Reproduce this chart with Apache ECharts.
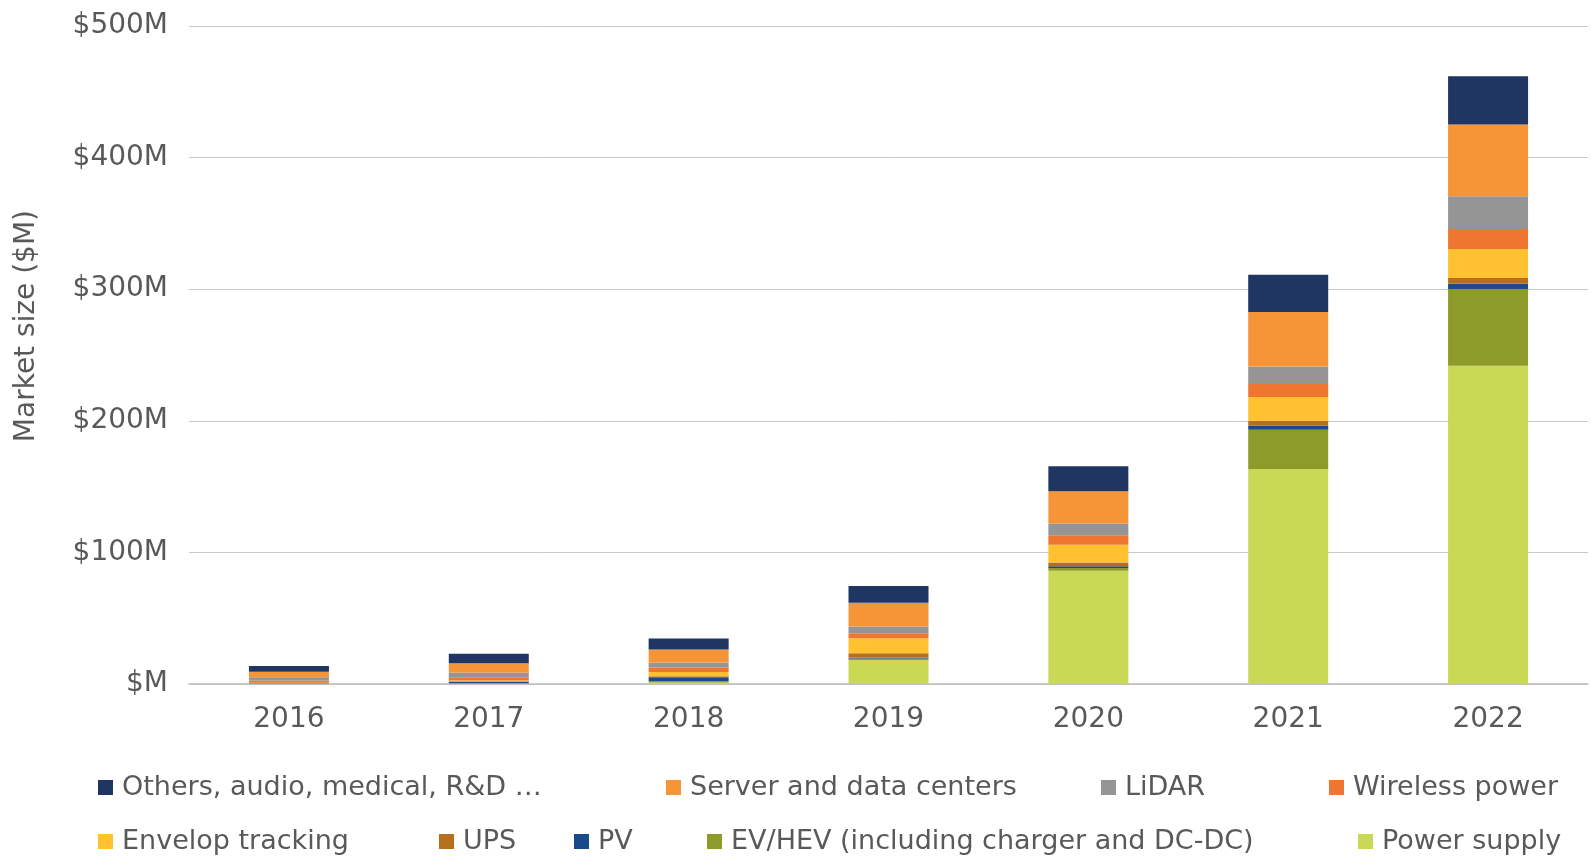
<!DOCTYPE html>
<html>
<head>
<meta charset="utf-8">
<script src="https://cdn.jsdelivr.net/npm/echarts@6/dist/echarts.min.js"></script>
<style>
  html, body { margin: 0; padding: 0; background: #fff; }
  #chart { width: 1591px; height: 856px; }
</style>
</head>
<body>
<div id="chart"></div>
<script>
// Market size by application, $M, stacked from the bottom up
const years = ['2016', '2017', '2018', '2019', '2020', '2021', '2022'];
const powerSupply = [0.3, 0.3, 1.1, 18.3, 86.0, 163.3, 241.8];
const evHev       = [0.2, 0.3, 1.0, 1.0, 2.2, 29.9, 58.4];
const pv          = [0.2, 1.2, 3.1, 0.7, 1.2, 3.2, 4.0];
const ups         = [0.1, 0.3, 0.7, 3.3, 3.0, 3.6, 4.3];
const envelop     = [0.2, 0.6, 3.3, 11.5, 13.5, 18.0, 22.1];
const wireless    = [1.6, 2.0, 3.3, 3.8, 7.1, 10.7, 15.2];
const lidar       = [2.5, 4.0, 3.8, 5.0, 8.9, 12.6, 24.8];
const server      = [4.3, 7.1, 9.9, 18.2, 24.5, 41.4, 54.5];
const others      = [4.3, 7.2, 8.4, 12.7, 19.1, 28.3, 36.7];
const yTicks = [0, 100, 200, 300, 400, 500];

const FONT = '"DejaVu Sans", "Open Sans", sans-serif';
const TEXT = '#595959';

const seriesDefs = [
  { name: 'Power supply', data: powerSupply, color: '#C9D855' },
  { name: 'EV/HEV (including charger and DC-DC)', data: evHev, color: '#8C9B2A' },
  { name: 'PV', data: pv, color: '#1B4A8A' },
  { name: 'UPS', data: ups, color: '#B5701E' },
  { name: 'Envelop tracking', data: envelop, color: '#FFC12F' },
  { name: 'Wireless power', data: wireless, color: '#EE7631' },
  { name: 'LiDAR', data: lidar, color: '#959595' },
  { name: 'Server and data centers', data: server, color: '#F59538' },
  { name: 'Others, audio, medical, R&D …', data: others, color: '#1F3562' }
];

// Legend entries laid out on two rows
const legendSlots = [
  { name: 'Others, audio, medical, R&D …', left: 98, top: 774 },
  { name: 'Server and data centers', left: 666, top: 774 },
  { name: 'LiDAR', left: 1101, top: 774 },
  { name: 'Wireless power', left: 1329, top: 774 },
  { name: 'Envelop tracking', left: 98, top: 828 },
  { name: 'UPS', left: 439, top: 828 },
  { name: 'PV', left: 574, top: 828 },
  { name: 'EV/HEV (including charger and DC-DC)', left: 707, top: 828 },
  { name: 'Power supply', left: 1358, top: 828 }
];

const chart = echarts.init(document.getElementById('chart'), null, { renderer: 'canvas' });

chart.setOption({
  animation: false,
  backgroundColor: '#ffffff',
  textStyle: { fontFamily: FONT },
  grid: { left: 189, right: 3, top: 26, bottom: 172, containLabel: false },
  legend: legendSlots.map(s => ({
    data: [s.name],
    left: s.left,
    top: s.top,
    padding: 0,
    itemWidth: 15,
    itemHeight: 15,
    itemGap: 0,
    selectedMode: false,
    icon: 'rect',
    textStyle: { fontFamily: FONT, fontSize: 27, color: TEXT, padding: [0, 0, 0, 4] }
  })),
  xAxis: {
    type: 'category',
    data: years,
    axisLine: { show: true, lineStyle: { color: '#bdbdbd', width: 1.5 } },
    axisTick: { show: false },
    axisLabel: { fontFamily: FONT, fontSize: 28, color: TEXT, margin: 22 }
  },
  yAxis: {
    type: 'value',
    min: yTicks[0],
    max: yTicks[yTicks.length - 1],
    interval: yTicks[1] - yTicks[0],
    axisLine: { show: false },
    axisTick: { show: false },
    splitLine: { lineStyle: { color: '#c8c8c8', width: 1 } },
    axisLabel: {
      fontFamily: FONT, fontSize: 28, color: TEXT, margin: 21,
      formatter: v => v === 0 ? '$M' : '$' + v + 'M'
    }
  },
  graphic: [{
    type: 'text',
    left: 13,
    top: 210,
    rotation: Math.PI / 2,
    style: {
      text: 'Market size ($M)',
      font: '28px ' + FONT,
      fill: TEXT
    }
  }],
  series: seriesDefs.map(s => ({
    name: s.name,
    type: 'bar',
    stack: 'total',
    barWidth: 80,
    data: s.data,
    itemStyle: { color: s.color },
    emphasis: { disabled: true }
  }))
});
</script>
</body>
</html>
